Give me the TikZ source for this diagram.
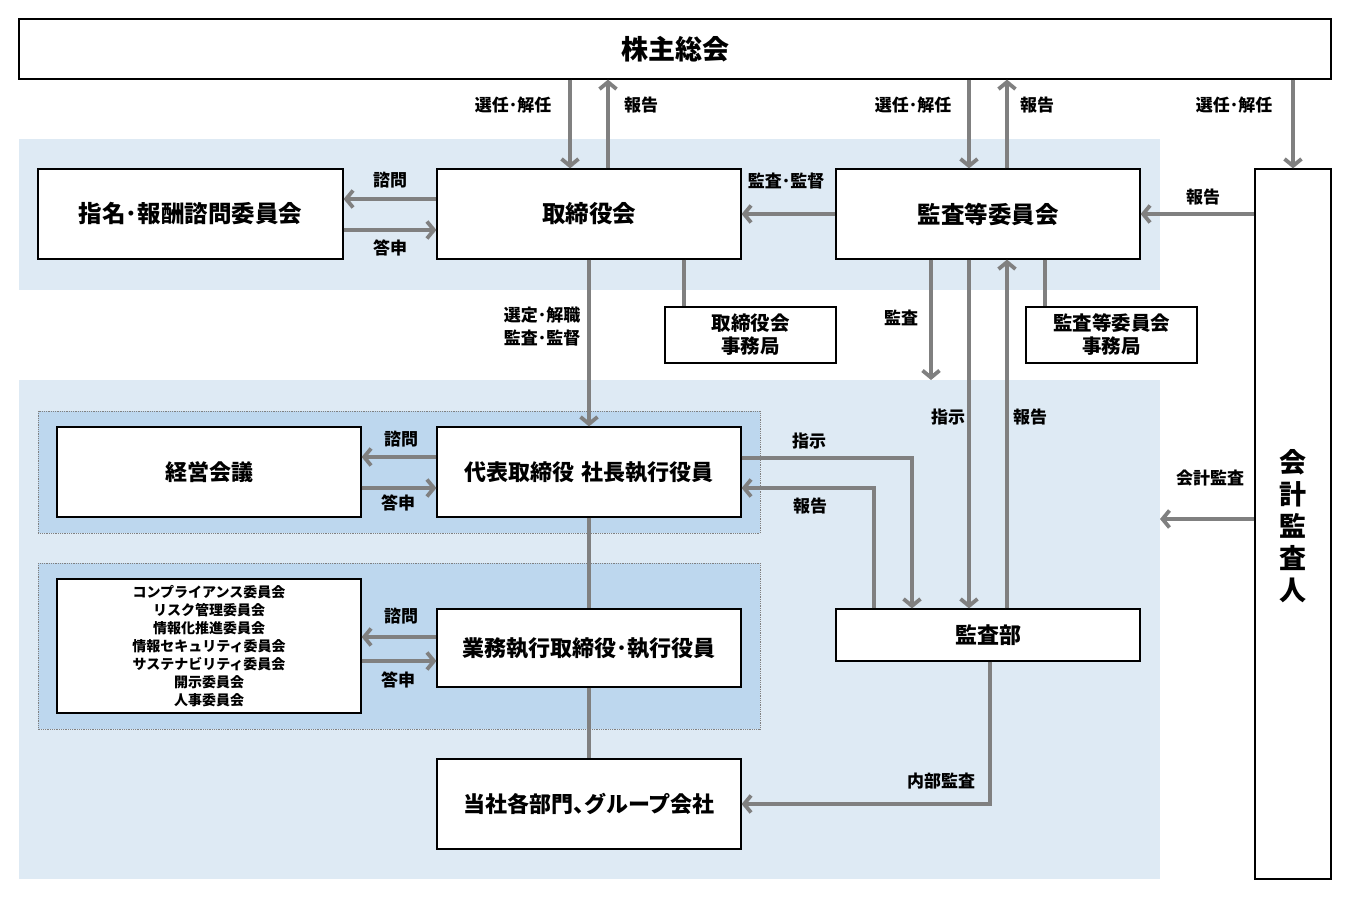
\documentclass[tikz,border=0pt]{standalone}
\usepackage{fontspec}
\setmainfont{Noto Sans CJK JP}
\usetikzlibrary{arrows.meta}
\definecolor{agray}{HTML}{808080}
\definecolor{bandlight}{HTML}{DEEAF4}
\definecolor{banddark}{HTML}{BDD7EE}
\newcommand{\hdot}{･}
\tikzset{
  box/.style={draw=black, line width=1.2pt, fill=white, inner sep=0pt, align=center},
  arr/.style={draw=agray, line width=3.8pt, -{Straight Barb[length=7pt,width=17pt]}},
  ln/.style={draw=agray, line width=3.8pt},
  lbl/.style={font=\fontsize{17}{20}\selectfont, inner sep=0pt, align=center},
  big/.style={font=\fontsize{23.5}{27}\selectfont},
  mid/.style={font=\fontsize{22}{26}\selectfont},
}
\begin{document}
\bfseries
\begin{tikzpicture}[x=1pt,y=-1pt]
\useasboundingbox (0,0) rectangle (1351,897);
% bands
\fill[bandlight] (19,139) rectangle (1160,290);
\fill[bandlight] (19,380) rectangle (1160,879);
\filldraw[fill=banddark, draw=gray, densely dotted, line width=0.8pt] (38,411) rectangle (760,533);
\filldraw[fill=banddark, draw=gray, densely dotted, line width=0.8pt] (38,563) rectangle (760,729);
% nodes
\node[box, minimum width=1312pt, minimum height=60pt, font=\fontsize{27}{30}\selectfont] (sh) at (675,49) {株主総会};
\node[box, big, minimum width=305pt, minimum height=90pt] (nom) at (190.5,214) {指名\hdot 報酬諮問委員会};
\node[box, big, minimum width=304pt, minimum height=90pt] (bod) at (589,214) {取締役会};
\node[box, big, minimum width=304pt, minimum height=90pt] (ac) at (988,214) {監査等委員会};
\node[box, minimum width=76pt, minimum height=710pt] (auditor) at (1293,524) {};
\node[font=\fontsize{27}{32}\selectfont, align=center, inner sep=0pt] (auditortxt) at (1293,526) {会\\計\\監\\査\\人};
\node[box, minimum width=171pt, minimum height=56pt, font=\fontsize{19.5}{23}\selectfont] (bodsec) at (750.5,335) {取締役会\\事務局};
\node[box, minimum width=171pt, minimum height=56pt, font=\fontsize{19.5}{23}\selectfont] (acsec) at (1111.5,335) {監査等委員会\\事務局};
\node[box, mid, minimum width=304pt, minimum height=90pt] (mgmt) at (209,472) {経営会議};
\node[box, mid, minimum width=304pt, minimum height=90pt] (ceo) at (589,472) {代表取締役\hspace{0.3em}社長執行役員};
\node[box, font=\fontsize{14}{18}\selectfont, minimum width=304pt, minimum height=134pt] (comm) at (209,646) {コンプライアンス委員会\\リスク管理委員会\\情報化推進委員会\\情報セキュリティ委員会\\サステナビリティ委員会\\開示委員会\\人事委員会};
\node[box, mid, minimum width=304pt, minimum height=78pt] (exec) at (589,648) {業務執行取締役\hdot 執行役員};
\node[box, mid, minimum width=304pt, minimum height=52pt] (audit) at (988,635) {監査部};
\node[box, mid, minimum width=304pt, minimum height=90pt] (grp) at (589,804) {当社各部門\hbox to 0.5em{、\hss}グループ会社};
% free ends
\coordinate (kansaend) at (931,380);
\coordinate (kaikeiend) at (1160,519);
% connectors: shareholders
\draw[arr] ([xshift=-19pt]bod.north |- sh.south) -- ([xshift=-19pt]bod.north);
\draw[arr] ([xshift=19pt]bod.north) -- ([xshift=19pt]bod.north |- sh.south);
\draw[arr] ([xshift=-19pt]ac.north |- sh.south) -- ([xshift=-19pt]ac.north);
\draw[arr] ([xshift=19pt]ac.north) -- ([xshift=19pt]ac.north |- sh.south);
\draw[arr] (auditor.north |- sh.south) -- (auditor.north);
% board <-> nomination
\draw[arr] ([yshift=15pt]bod.west) -- ([yshift=15pt]nom.east);
\draw[arr] ([yshift=-16pt]nom.east) -- ([yshift=-16pt]bod.west);
% audit committee -> board
\draw[arr] (ac.west) -- (bod.east);
% auditor -> audit committee
\draw[arr] (auditor.west |- ac.east) -- (ac.east);
% board -> ceo
\draw[arr] (bod.south) -- (ceo.north);
% secretariats
\draw[ln] ([xshift=95pt]bod.south) -- ([xshift=95pt]bod.south |- bodsec.north);
\draw[ln] ([xshift=57pt]ac.south) -- ([xshift=57pt]ac.south |- acsec.north);
% audit committee <-> audit dept
\draw[arr] ([xshift=-57pt]ac.south) -- (kansaend);
\draw[arr] ([xshift=-19pt]ac.south) -- ([xshift=-19pt]audit.north);
\draw[arr] ([xshift=19pt]audit.north) -- ([xshift=19pt]ac.south);
% ceo <-> audit dept
\draw[arr] ([yshift=14pt]ceo.east) -| ([xshift=-76pt]audit.north);
\draw[arr] ([xshift=-114pt]audit.north) |- ([yshift=-16pt]ceo.east);
% ceo <-> mgmt
\draw[arr] ([yshift=15pt]ceo.west) -- ([yshift=15pt]mgmt.east);
\draw[arr] ([yshift=-16pt]mgmt.east) -- ([yshift=-16pt]ceo.west);
\draw[ln] (ceo.south) -- (exec.north);
% exec <-> committees
\draw[arr] ([yshift=11pt]exec.west) -- ([yshift=11pt]exec.west -| comm.east);
\draw[arr] ([yshift=-13pt]exec.west -| comm.east) -- ([yshift=-13pt]exec.west);
\draw[ln] (exec.south) -- (grp.north);
% internal audit
\draw[arr] ([xshift=2pt]audit.south) |- (grp.east);
% accounting audit
\draw[arr] (auditor.west |- kaikeiend) -- (kaikeiend);
% labels
\node[lbl] (l1) at (513,105) {選任\hdot 解任};
\node[lbl] (l2) at (641,105) {報告};
\node[lbl] (l3) at (913,105) {選任\hdot 解任};
\node[lbl] (l4) at (1037,105) {報告};
\node[lbl] (l5) at (1234,105) {選任\hdot 解任};
\node[lbl] (l6) at (390,180) {諮問};
\node[lbl] (l7) at (390,248) {答申};
\node[lbl] (l8) at (786,181) {監査\hdot 監督};
\node[lbl] (l9) at (1203,197) {報告};
\node[lbl, font=\fontsize{17}{23}\selectfont] (l10) at (542,327) {選定\hdot 解職\\監査\hdot 監督};
\node[lbl] (l11) at (901,318) {監査};
\node[lbl] (l12) at (948,417) {指示};
\node[lbl] (l13) at (1030,417) {報告};
\node[lbl] (l14) at (809,441) {指示};
\node[lbl] (l15) at (810,506) {報告};
\node[lbl] (l16) at (401,439) {諮問};
\node[lbl] (l17) at (398,503) {答申};
\node[lbl] (l18) at (401,616) {諮問};
\node[lbl] (l19) at (398,680) {答申};
\node[lbl] (l20) at (941,781) {内部監査};
\node[lbl] (l21) at (1210,478) {会計監査};
\end{tikzpicture}
\end{document}
